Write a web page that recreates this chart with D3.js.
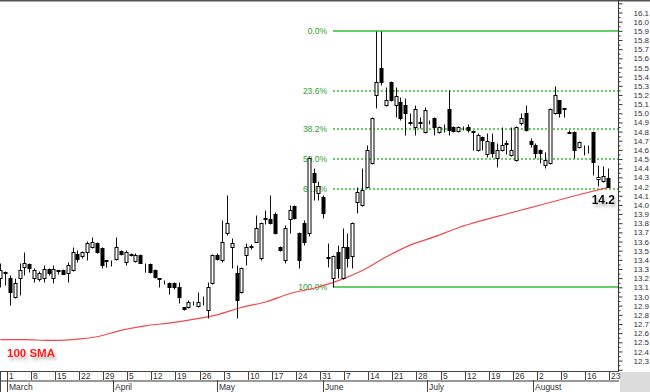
<!DOCTYPE html>
<html>
<head>
<meta charset="utf-8">
<script src="https://cdn.jsdelivr.net/npm/d3@7/dist/d3.min.js"></script>
<style>
  body { margin: 0; background: #fff; }
  svg { display: block; }
</style>
</head>
<body>
<div id="wrapper"></div>
<script>
// daily candles, 25 Feb 2010 .. 20 Aug 2010 (trading days)
const opens = [13.20, 13.27,
  13.20, 12.99, 13.20, 13.32, 13.35, 13.20, 13.19, 13.20, 13.30, 13.20,
  13.29, 13.29, 13.26, 13.29, 13.46, 13.44, 13.49, 13.54, 13.58, 13.53,
  13.40, 13.36, 13.41, 13.50, 13.38, 13.45, 13.39, 13.45, 13.37, 13.35,
  13.29, 13.20, 13.16, 13.15, 13.15, 13.10, 12.88, 12.88, 12.93, 12.90,
  13.01, 12.85, 13.15, 13.45, 13.40, 13.69, 13.54, 13.26, 13.05, 13.45,
  13.54, 13.60, 13.42, 13.86, 13.85, 13.90, 13.54, 13.40, 13.85, 13.99,
  13.69, 13.80, 13.69, 14.35, 14.13, 14.09, 13.42, 13.20, 13.49, 13.20,
  13.54, 13.44, 14.03, 14.00, 14.19, 14.46, 15.20, 15.49, 15.09, 15.34,
  15.09, 15.12, 15.09, 14.89, 14.85, 14.89, 14.80, 14.90, 14.95, 14.80,
  14.84, 15.05, 14.85, 14.81, 14.84, 14.85, 14.81, 14.60, 14.74, 14.55,
  14.69, 14.51, 14.60, 14.66, 14.54, 14.49, 14.89, 15.00, 14.70, 14.65,
  14.60, 14.44, 14.46, 15.00, 15.14, 15.06, 14.80, 14.80, 14.63, 14.62,
  14.62, 14.80, 14.28, 14.26, 14.29]
const highs = [13.37, 13.28,
  13.23, 13.20, 13.37, 13.49, 13.36, 13.31, 13.28, 13.34, 13.31, 13.34,
  13.29, 13.30, 13.38, 13.54, 13.51, 13.50, 13.61, 13.65, 13.59, 13.54,
  13.40, 13.40, 13.65, 13.51, 13.51, 13.47, 13.47, 13.46, 13.37, 13.36,
  13.30, 13.20, 13.18, 13.16, 13.16, 13.16, 12.89, 12.96, 12.95, 13.05,
  13.01, 13.16, 13.46, 13.47, 13.83, 14.11, 13.64, 13.34, 13.32, 13.58,
  13.57, 13.89, 13.81, 13.94, 14.11, 13.92, 13.55, 13.78, 14.00, 14.00,
  13.70, 13.83, 14.52, 14.40, 14.26, 14.11, 13.58, 13.45, 13.56, 13.75,
  13.69, 13.81, 14.19, 14.40, 14.65, 14.96, 15.90, 15.90, 15.29, 15.35,
  15.29, 15.18, 15.17, 15.00, 15.09, 14.96, 15.07, 14.93, 14.96, 14.86,
  14.88, 15.25, 14.86, 14.86, 14.86, 14.88, 14.82, 14.78, 14.75, 14.78,
  14.78, 14.67, 14.85, 14.71, 14.85, 14.86, 15.00, 15.09, 14.73, 14.67,
  14.61, 14.58, 15.06, 15.30, 15.15, 15.06, 14.82, 14.81, 14.70, 14.65,
  14.65, 14.81, 14.44, 14.42, 14.40]
const lows = [13.10, 13.13,
  12.91, 12.98, 13.02, 13.23, 13.27, 13.16, 13.17, 13.16, 13.23, 13.15,
  13.25, 13.24, 13.16, 13.28, 13.38, 13.42, 13.40, 13.53, 13.48, 13.31,
  13.32, 13.33, 13.40, 13.45, 13.34, 13.44, 13.38, 13.36, 13.27, 13.26,
  13.20, 13.10, 13.14, 13.03, 13.08, 12.93, 12.85, 12.87, 12.91, 12.88,
  12.91, 12.76, 13.14, 13.40, 13.38, 13.67, 13.31, 12.77, 13.04, 13.34,
  13.52, 13.59, 13.40, 13.79, 13.79, 13.68, 13.50, 13.37, 13.69, 13.85,
  13.31, 13.56, 13.66, 14.05, 14.05, 13.86, 13.32, 13.10, 13.20, 13.19,
  13.32, 13.31, 13.91, 13.99, 14.18, 14.45, 15.06, 15.31, 15.08, 15.13,
  14.96, 14.93, 14.76, 14.87, 14.76, 14.84, 14.79, 14.88, 14.76, 14.79,
  14.80, 14.76, 14.80, 14.80, 14.82, 14.80, 14.60, 14.59, 14.60, 14.52,
  14.52, 14.41, 14.59, 14.56, 14.53, 14.48, 14.87, 14.81, 14.63, 14.51,
  14.46, 14.40, 14.45, 14.99, 14.96, 14.96, 14.78, 14.51, 14.62, 14.54,
  14.57, 14.33, 14.21, 14.25, 14.19]
const closes = [13.29, 13.26,
  13.05, 13.15, 13.29, 13.37, 13.31, 13.29, 13.26, 13.30, 13.26, 13.30,
  13.28, 13.25, 13.34, 13.49, 13.41, 13.49, 13.58, 13.60, 13.49, 13.34,
  13.39, 13.37, 13.54, 13.46, 13.49, 13.46, 13.45, 13.37, 13.36, 13.27,
  13.21, 13.19, 13.16, 13.10, 13.10, 12.99, 12.86, 12.94, 12.93, 12.94,
  13.00, 13.10, 13.45, 13.41, 13.60, 13.80, 13.58, 12.96, 13.31, 13.54,
  13.55, 13.75, 13.80, 13.85, 13.80, 13.69, 13.51, 13.75, 13.94, 13.86,
  13.40, 13.60, 14.51, 14.25, 14.21, 13.91, 13.43, 13.44, 13.31, 13.54,
  13.42, 13.80, 14.14, 14.16, 14.60, 14.95, 15.34, 15.34, 15.14, 15.14,
  15.19, 14.95, 15.00, 14.90, 15.05, 14.90, 15.04, 14.91, 14.85, 14.85,
  14.84, 14.82, 14.81, 14.85, 14.84, 14.82, 14.80, 14.76, 14.71, 14.70,
  14.57, 14.60, 14.65, 14.67, 14.60, 14.85, 14.95, 14.82, 14.66, 14.57,
  14.57, 14.49, 15.05, 15.20, 15.00, 15.05, 14.79, 14.60, 14.69, 14.62,
  14.62, 14.47, 14.30, 14.32, 14.19]

// 100-day simple moving average (trading-day index from 1 Mar)
const smaDay = [-2, 3, 8, 13, 18, 23, 28, 33, 38, 43, 48, 53, 58, 63, 68, 73, 78, 83, 88, 93, 98, 103, 108, 113, 118, 124]
const smaValue = [12.53, 12.53, 12.52, 12.53, 12.56, 12.63, 12.68, 12.71, 12.75, 12.80, 12.88, 12.94, 13.03,
  13.09, 13.17, 13.28, 13.43, 13.56, 13.65, 13.75, 13.83, 13.90, 13.97, 14.04, 14.11, 14.19]

// fibonacci retracement between swing high and swing low
const fibHigh = 15.90
const fibLow = 13.10
const fibLowDay = 67
const fibRatios = [0, 0.236, 0.382, 0.5, 0.618, 1]
const fibLabels = ['0.0%', '23.6%', '38.2%', '50.0%', '61.8%', '100.0%']

const priceTicks = d3.range(122, 163).map(v => v / 10)
const monthNames = ['January', 'February', 'March', 'April', 'May', 'June', 'July', 'August']

const drawChart = () => {
    const dimensions = {
        width: 650,
        height: 392,
        plotRight: 618,
        plotBottom: 371,
    }

    const mar1 = new Date(2010, 2, 1)
    const days = d3.timeDay.range(new Date(2010, 1, 25), new Date(2010, 7, 21))
        .filter(d => d.getDay() !== 0 && d.getDay() !== 6)
    const i0 = days.findIndex(d => +d === +mar1)

    const data = days.map((d, k) => ({
        date: d,
        i: k - i0,
        open: opens[k],
        high: highs[k],
        low: lows[k],
        close: closes[k],
    }))

    const svg = d3.select('#wrapper')
        .append('svg')
        .attr('width', dimensions.width)
        .attr('height', dimensions.height)
        .style('font-family', '"Liberation Sans", Arial, sans-serif')

    const defs = svg.append('defs')
    defs.append('clipPath').attr('id', 'plotClip')
        .append('rect')
        .attr('x', 0).attr('y', 0)
        .attr('width', dimensions.plotRight).attr('height', dimensions.plotBottom)
    const shadow = defs.append('filter').attr('id', 'shadow')
        .attr('x', '-20%').attr('y', '-30%').attr('width', '150%').attr('height', '180%')
    shadow.append('feDropShadow')
        .attr('dx', 2).attr('dy', 3).attr('stdDeviation', 1.6)
        .attr('flood-color', '#777').attr('flood-opacity', 0.55)

    // trading-day index -> x (candle centre)
    const x = d3.scaleLinear().domain([0, 125]).range([10, 612.5])
    const y = d3.scaleLinear().domain([12.3, 16.1]).range([360.6, 12.5])
    const px = v => Math.round(x(v)) + 0.5
    const py = v => Math.round(y(v)) + 0.5
    const dividerX = v => Math.round(x(v) - 3.3) + 0.5

    // plot frame
    svg.append('rect')
        .attr('width', dimensions.width).attr('height', dimensions.height)
        .attr('fill', '#fff')
    svg.append('line')
        .attr('x1', 0).attr('x2', dimensions.width)
        .attr('y1', 0.75).attr('y2', 0.75)
        .attr('stroke', '#555').attr('stroke-width', 1.5)

    const plot = svg.append('g').attr('clip-path', 'url(#plotClip)')

    // fibonacci levels
    const fib = fibRatios.map((r, k) => ({
        r,
        label: fibLabels[k],
        price: fibHigh - r * (fibHigh - fibLow),
    }))
    const fibStart = Math.round(x(fibLowDay))
    const fibG = plot.append('g')
    fibG.selectAll('line')
        .data(fib)
        .join('line')
        .attr('x1', fibStart)
        .attr('x2', dimensions.plotRight)
        .attr('y1', d => Math.round(y(d.price)))
        .attr('y2', d => Math.round(y(d.price)))
        .style('stroke', '#33c033')
        .style('stroke-width', 1.6)
        .style('stroke-dasharray', d => (d.r === 0 || d.r === 1) ? 'none' : '2,2')
    fibG.selectAll('text')
        .data(fib)
        .join('text')
        .text(d => d.label)
        .attr('x', fibStart - 6)
        .attr('y', d => y(d.price) + 3)
        .attr('text-anchor', 'end')
        .style('fill', '#2f9f2f')
        .style('font-size', '8.5px')

    // moving average
    const sma = smaDay.map((d, k) => ({ i: d, v: smaValue[k] }))
    plot.append('path')
        .datum(sma)
        .attr('d', d3.line().x(d => x(d.i)).y(d => y(d.v)).curve(d3.curveMonotoneX))
        .attr('fill', 'none')
        .attr('stroke', '#f24a4a')
        .attr('stroke-width', 1.2)

    // candles
    const candle = plot.append('g').selectAll('g')
        .data(data)
        .join('g')
    candle.append('line')
        .attr('x1', d => px(d.i))
        .attr('x2', d => px(d.i))
        .attr('y1', d => py(d.high))
        .attr('y2', d => py(d.low))
        .attr('stroke', '#111')
    candle.append('rect')
        .attr('x', d => px(d.i) - 1.5)
        .attr('width', 3)
        .attr('y', d => py(Math.max(d.open, d.close)))
        .attr('height', d => Math.max(0, py(Math.min(d.open, d.close)) - py(Math.max(d.open, d.close))))
        .attr('fill', d => d.close >= d.open ? '#fff' : '#000')
        .attr('stroke', '#000')

    // price axis on the right
    const yAxisMajor = d3.axisRight(y)
        .tickValues(priceTicks)
        .tickSize(4)
        .tickPadding(11)
        .tickFormat(d => (d < 12.25 || d > 16.15) ? '' : d.toFixed(1))
    const yAxisMinor = d3.axisRight(y)
        .tickValues(priceTicks.map(v => v + 0.05))
        .tickSize(2)
        .tickFormat('')
    const axisG = svg.append('g').attr('transform', `translate(${dimensions.plotRight + 0.5}, 0)`)
    axisG.append('g').call(yAxisMinor)
    axisG.append('g').call(yAxisMajor)
    axisG.selectAll('.domain').remove()
    axisG.selectAll('line').attr('stroke', '#333')
    axisG.selectAll('text').attr('fill', '#333').style('font-size', '8px')
    svg.append('line')
        .attr('x1', dimensions.plotRight + 0.5).attr('x2', dimensions.plotRight + 0.5)
        .attr('y1', 0).attr('y2', dimensions.plotBottom)
        .attr('stroke', '#333')

    // date band
    const band = svg.append('g')
    band.append('rect')
        .attr('x', dimensions.plotRight + 2).attr('y', dimensions.plotBottom + 1)
        .attr('width', dimensions.width - dimensions.plotRight - 2)
        .attr('height', dimensions.height - dimensions.plotBottom - 1)
        .attr('fill', '#dcdcdc')
    band.append('line')
        .attr('x1', 0).attr('x2', dimensions.plotRight + 1)
        .attr('y1', dimensions.plotBottom + 0.5).attr('y2', dimensions.plotBottom + 0.5)
        .attr('stroke', '#444')
    band.append('line')
        .attr('x1', 0).attr('x2', dimensions.plotRight + 1)
        .attr('y1', 381).attr('y2', 381)
        .attr('stroke', '#999').attr('stroke-width', 2)
    band.append('line')
        .attr('x1', 0.5).attr('x2', 0.5)
        .attr('y1', dimensions.plotBottom).attr('y2', dimensions.height)
        .attr('stroke', '#444')

    const mondays = d3.timeMonday.range(mar1, new Date(2010, 7, 24))
    const weeks = mondays.map((d, k) => ({ date: d, i: k * 5 }))
    const weekG = band.selectAll('g.week').data(weeks).join('g').attr('class', 'week')
    weekG.append('line')
        .attr('x1', d => dividerX(d.i)).attr('x2', d => dividerX(d.i))
        .attr('y1', dimensions.plotBottom).attr('y2', 380)
        .attr('stroke', '#444')
    weekG.append('text')
        .text(d => d.date.getDate())
        .attr('x', d => dividerX(d.i) + 1.5)
        .attr('y', 379)
        .attr('fill', '#333')
        .style('font-size', '8.5px')

    const monthPos = d => {
        const monday = d3.timeMonday.floor(d)
        const iMon = d3.timeMonday.count(mar1, monday) * 5
        return iMon + d3.timeDay.count(monday, d) * 5 / 7
    }
    const months = d3.range(2, 8).map(m => {
        const d = new Date(2010, m, 1)
        return { name: monthNames[m], i: monthPos(d) }
    })
    const monthG = band.selectAll('g.month').data(months).join('g').attr('class', 'month')
    monthG.append('line')
        .attr('x1', d => dividerX(d.i)).attr('x2', d => dividerX(d.i))
        .attr('y1', 380).attr('y2', dimensions.height)
        .attr('stroke', '#444')
    monthG.append('text')
        .text(d => d.name)
        .attr('x', d => dividerX(d.i) + 1.5)
        .attr('y', 390)
        .attr('fill', '#333')
        .style('font-size', '8.5px')

    // labels
    svg.append('text')
        .text('100 SMA')
        .attr('x', 7)
        .attr('y', 357)
        .attr('fill', '#ff1a1a')
        .attr('filter', 'url(#shadow)')
        .style('font-size', '11.5px')
        .style('font-weight', 'bold')
    const last = sma[sma.length - 1]
    svg.append('text')
        .text(last.v.toFixed(1))
        .attr('x', x(last.i) - 16)
        .attr('y', y(last.v) + 17)
        .attr('fill', '#000')
        .attr('filter', 'url(#shadow)')
        .style('font-size', '12px')
        .style('font-weight', 'bold')
}
drawChart()
</script>
</body>
</html>
